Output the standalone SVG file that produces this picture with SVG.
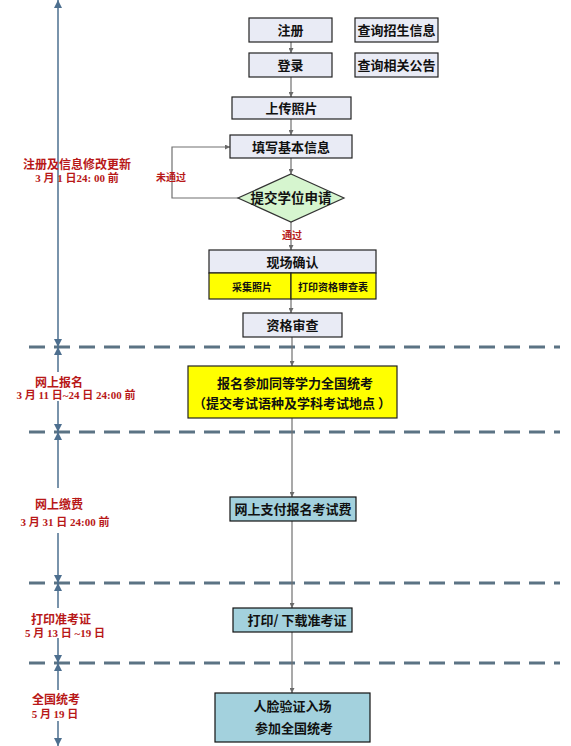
<svg xmlns="http://www.w3.org/2000/svg" width="571" height="746" viewBox="0 0 571 746">
<defs>
<style>
.bx{fill:#e9ebf5;stroke:#222;stroke-width:1.2}
.yl{fill:#ffff00;stroke:#222;stroke-width:1.2}
.tl{fill:#a3d1dd;stroke:#111;stroke-width:1.2}
.dm{fill:#d6f5cf;stroke:#333;stroke-width:1.2}
.t{font-family:"Noto Sans CJK SC","Noto Sans",sans-serif;font-weight:700;fill:#111;text-anchor:middle}
.red{font-family:"Noto Sans CJK SC","Noto Sans",sans-serif;font-weight:700;fill:#b81818;text-anchor:middle}
.dt{font-family:"Liberation Serif","Noto Sans CJK SC",serif;font-weight:700;fill:#b81818;text-anchor:middle;font-size:11px}
.ax{stroke:#4d6f8f;stroke-width:1.5;fill:none}
.fl{stroke:#707070;stroke-width:1.2;fill:none}
.ds{stroke:#5b7384;stroke-width:3;stroke-dasharray:16 9;fill:none}
</style>
<marker id="ah" viewBox="0 0 10 10" refX="10" refY="5" markerWidth="9" markerHeight="8" markerUnits="userSpaceOnUse" orient="auto-start-reverse">
<path d="M0,0 L10,5 L0,10 z" fill="#4d6f8f"/>
</marker>
<marker id="fa" viewBox="0 0 10 10" refX="10" refY="5" markerWidth="6" markerHeight="5" markerUnits="userSpaceOnUse" orient="auto">
<path d="M0,0 L10,5 L0,10 z" fill="#6a6a6a"/>
</marker>
</defs>
<rect width="571" height="746" fill="#fff"/>

<g id="dashes">
<line class="ds" x1="29" y1="347" x2="560" y2="347"/>
<line class="ds" x1="29" y1="432" x2="560" y2="432"/>
<line class="ds" x1="29" y1="583" x2="560" y2="583"/>
<line class="ds" x1="29" y1="663" x2="560" y2="663"/>
</g>

<g id="axis">
<line class="ax" x1="58" y1="0" x2="58" y2="347" marker-start="url(#ah)" marker-end="url(#ah)"/>
<line class="ax" x1="58" y1="347" x2="58" y2="372" marker-start="url(#ah)"/>
<line class="ax" x1="58" y1="401" x2="58" y2="432" marker-end="url(#ah)"/>
<line class="ax" x1="58" y1="432" x2="58" y2="488" marker-start="url(#ah)"/>
<line class="ax" x1="58" y1="533" x2="58" y2="583" marker-end="url(#ah)"/>
<line class="ax" x1="58" y1="583" x2="58" y2="608" marker-start="url(#ah)"/>
<line class="ax" x1="58" y1="638" x2="58" y2="663" marker-end="url(#ah)"/>
<line class="ax" x1="58" y1="663" x2="58" y2="690" marker-start="url(#ah)"/>
<line class="ax" x1="58" y1="721" x2="58" y2="746" marker-end="url(#ah)"/>
</g>

<g id="connectors">
<line class="fl" x1="291" y1="42" x2="291" y2="53" marker-end="url(#fa)"/>
<line class="fl" x1="291" y1="77" x2="291" y2="97" marker-end="url(#fa)"/>
<line class="fl" x1="291" y1="119" x2="291" y2="135" marker-end="url(#fa)"/>
<line class="fl" x1="291" y1="158" x2="291" y2="174" marker-end="url(#fa)"/>
<line class="fl" x1="291" y1="222" x2="291" y2="250" marker-end="url(#fa)"/>
<polyline class="fl" points="238,198 172,198 172,147 230,147" marker-end="url(#fa)"/>
<line class="fl" x1="291" y1="299" x2="291" y2="313" marker-end="url(#fa)"/>
<line class="fl" x1="292" y1="337" x2="292" y2="366" marker-end="url(#fa)"/>
<line class="fl" x1="292" y1="418" x2="292" y2="497" marker-end="url(#fa)"/>
<line class="fl" x1="292" y1="521" x2="292" y2="608" marker-end="url(#fa)"/>
<line class="fl" x1="292" y1="632" x2="292" y2="693" marker-end="url(#fa)"/>
<text class="red" x="171" y="181" font-size="10">未通过</text>
<text class="red" x="292" y="239" font-size="10">通过</text>
</g>

<g id="n-zhuce"><rect class="bx" x="249" y="18" width="83" height="24"/><text class="t" x="290.5" y="35" font-size="13">注册</text></g>
<g id="n-zhaosheng"><rect class="bx" x="355" y="18" width="83" height="24"/><text class="t" x="396.5" y="35" font-size="13">查询招生信息</text></g>
<g id="n-denglu"><rect class="bx" x="249" y="53" width="83" height="24"/><text class="t" x="290.5" y="70" font-size="13">登录</text></g>
<g id="n-gonggao"><rect class="bx" x="355" y="53" width="83" height="24"/><text class="t" x="396.5" y="70" font-size="13">查询相关公告</text></g>
<g id="n-zhaopian"><rect class="bx" x="232" y="97" width="119" height="22"/><text class="t" x="291.5" y="113" font-size="13">上传照片</text></g>
<g id="n-tianxie"><rect class="bx" x="230" y="135" width="122" height="23"/><text class="t" x="291" y="151.5" font-size="13">填写基本信息</text></g>
<g id="n-tijiao"><polygon class="dm" points="291,174 344,198 291,222 238,198"/><text class="t" x="291" y="203" font-size="13.5">提交学位申请</text></g>
<g id="n-xianchang">
<rect class="bx" x="209" y="250" width="167" height="23"/>
<rect class="yl" x="209" y="273" width="82" height="26"/>
<rect class="yl" x="291" y="273" width="85" height="26"/>
<text class="t" x="292.5" y="266.5" font-size="13">现场确认</text>
<text class="t" x="252" y="290.5" font-size="10">采集照片</text>
<text class="t" x="333" y="290.5" font-size="10">打印资格审查表</text>
</g>
<g id="n-shencha"><rect class="bx" x="243" y="313" width="99" height="24"/><text class="t" x="292.5" y="330" font-size="13">资格审查</text></g>
<g id="n-baoming"><rect class="yl" x="188" y="366" width="209" height="52"/>
<text class="t" x="295" y="388" font-size="13">报名参加同等学力全国统考</text>
<text class="t" x="292" y="408" font-size="13">（提交考试语种及学科考试地点 ）</text></g>
<g id="n-jiaofei"><rect class="tl" x="230" y="497" width="126" height="24"/><text class="t" x="293" y="514" font-size="13">网上支付报名考试费</text></g>
<g id="n-zhunkaozheng"><rect class="tl" x="233" y="608" width="119" height="24"/><text class="t" x="297" y="625" font-size="13">打印/ 下载准考证</text></g>
<g id="n-kaoshi"><rect class="tl" x="215" y="693" width="155" height="49"/>
<text class="t" x="292.5" y="711" font-size="13">人脸验证入场</text>
<text class="t" x="294" y="733" font-size="13">参加全国统考</text></g>

<g id="phase-labels">
<text class="red" x="77" y="169" font-size="12">注册及信息修改更新</text>
<text class="dt" x="77" y="182">3 月 1 日24: 00 前</text>
<text class="red" x="59" y="387" font-size="12">网上报名</text>
<text class="dt" x="76" y="399">3 月 11 日~24 日 24:00 前</text>
<text class="red" x="59" y="509" font-size="12">网上缴费</text>
<text class="dt" x="65" y="526">3 月 31 日 24:00 前</text>
<text class="red" x="61" y="624" font-size="12">打印准考证</text>
<text class="dt" x="65" y="637">5 月 13 日 ~19 日</text>
<text class="red" x="56" y="704" font-size="12">全国统考</text>
<text class="dt" x="55" y="718">5 月 19 日</text>
</g>
</svg>
